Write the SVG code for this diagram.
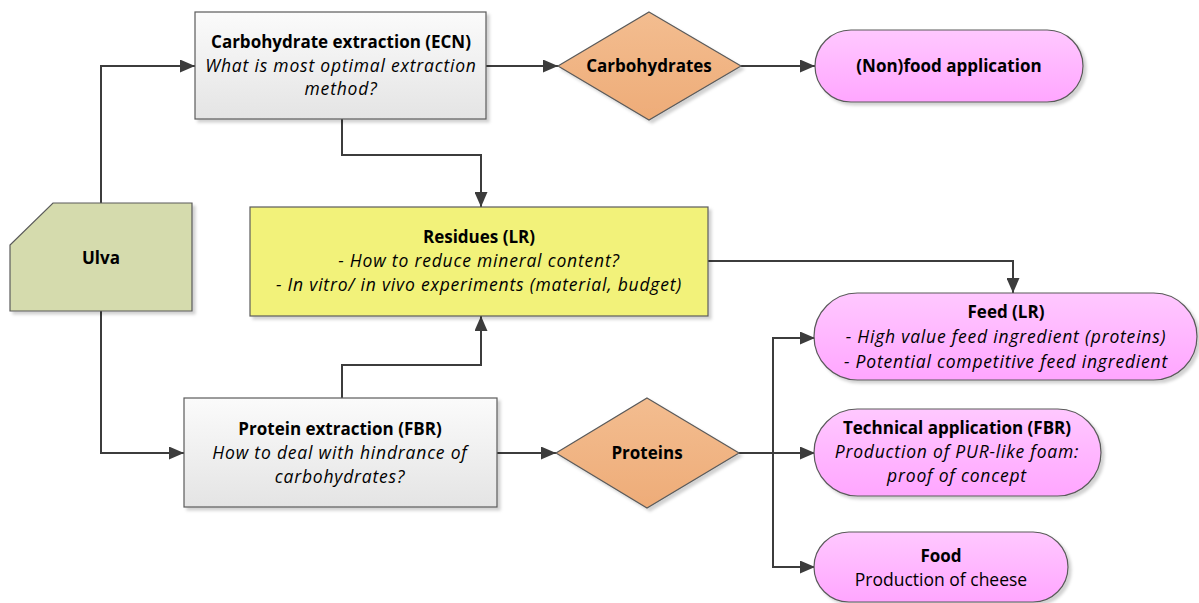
<svg xmlns="http://www.w3.org/2000/svg" width="1199" height="603" viewBox="0 0 1199 603">
<defs>
<linearGradient id="gGray" x1="0" y1="0" x2="0" y2="1"><stop offset="0" stop-color="#fbfbfb"/><stop offset="1" stop-color="#e4e4e4"/></linearGradient>
<linearGradient id="gPink" x1="0" y1="0" x2="0" y2="1"><stop offset="0" stop-color="#ffc8ff"/><stop offset="1" stop-color="#ffa6ff"/></linearGradient>
<linearGradient id="gOrange" x1="0" y1="0" x2="0" y2="1"><stop offset="0" stop-color="#f3bd90"/><stop offset="1" stop-color="#eeac78"/></linearGradient>
<filter id="sh" x="-5%" y="-5%" width="115%" height="120%"><feDropShadow dx="3" dy="3" stdDeviation="1.5" flood-color="#000" flood-opacity="0.18"/></filter>
<marker id="arr" viewBox="0 0 15 13" refX="15" refY="6.5" markerWidth="15" markerHeight="13" markerUnits="userSpaceOnUse" orient="auto"><path d="M0,0 L15,6.5 L0,13 z" fill="#3c3c3c"/></marker>
</defs>
<style>
.ln{fill:none;stroke:#3c3c3c;stroke-width:2}
.bd{stroke:#5a5a5a;stroke-width:1.2}
text{font-family:"Open Sans","Noto Sans","Liberation Sans",sans-serif;font-size:17.5px;fill:#000;text-anchor:middle}
.b{font-weight:bold;font-size:17px}
.i{font-style:italic;letter-spacing:0.8px}
</style>
<rect width="1199" height="603" fill="#fff"/>
<g id="connectors">
<path class="ln" d="M101,203 V66 H195" marker-end="url(#arr)"/>
<path class="ln" d="M101,311 V453 H184" marker-end="url(#arr)"/>
<path class="ln" d="M486,66 H558" marker-end="url(#arr)"/>
<path class="ln" d="M741,66 H815" marker-end="url(#arr)"/>
<path class="ln" d="M342,119 V155 H481 V207" marker-end="url(#arr)"/>
<path class="ln" d="M342,398 V365 H481 V316" marker-end="url(#arr)"/>
<path class="ln" d="M708,261 H1013 V293" marker-end="url(#arr)"/>
<path class="ln" d="M497,453 H556" marker-end="url(#arr)"/>
<path class="ln" d="M739,453 H815" marker-end="url(#arr)"/>
<path class="ln" d="M773,453 V338 H815" marker-end="url(#arr)"/>
<path class="ln" d="M773,453 V567 H815" marker-end="url(#arr)"/>
</g>
<g id="ulva">
<path class="bd" d="M53,203 H192 V311 H10 V245 Z" fill="#d5dbad" filter="url(#sh)"/>
<text class="b" x="101" y="264">Ulva</text>
</g>
<g id="carb-extraction">
<rect class="bd" x="195" y="12" width="291" height="107" fill="url(#gGray)" filter="url(#sh)"/>
<text class="b" x="341" y="48">Carbohydrate extraction (ECN)</text>
<text class="i" x="341" y="72">What is most optimal extraction</text>
<text class="i" x="341" y="95">method?</text>
</g>
<g id="carbohydrates">
<path class="bd" d="M649,12 L741,66 L649,120 L558,66 Z" fill="url(#gOrange)" filter="url(#sh)"/>
<text class="b" x="649" y="72">Carbohydrates</text>
</g>
<g id="nonfood">
<rect class="bd" x="815" y="30" width="268" height="72" rx="36" fill="url(#gPink)" filter="url(#sh)"/>
<text class="b" x="949" y="72">(Non)food application</text>
</g>
<g id="residues">
<rect class="bd" x="250" y="207" width="458" height="109" fill="#f2f27a" filter="url(#sh)"/>
<text class="b" x="479" y="243">Residues (LR)</text>
<text class="i" x="479" y="267">- How to reduce mineral content?</text>
<text class="i" x="479" y="291">- In vitro/ in vivo experiments (material, budget)</text>
</g>
<g id="protein-extraction">
<rect class="bd" x="184" y="398" width="313" height="109" fill="url(#gGray)" filter="url(#sh)"/>
<text class="b" x="340" y="435">Protein extraction (FBR)</text>
<text class="i" x="340" y="459">How to deal with hindrance of</text>
<text class="i" x="340" y="483">carbohydrates?</text>
</g>
<g id="proteins">
<path class="bd" d="M647,398 L739,453 L647,508 L556,453 Z" fill="url(#gOrange)" filter="url(#sh)"/>
<text class="b" x="647" y="459">Proteins</text>
</g>
<g id="feed">
<rect class="bd" x="814" y="293" width="383" height="87" rx="43.5" fill="url(#gPink)" filter="url(#sh)"/>
<text class="b" x="1006" y="318">Feed (LR)</text>
<text class="i" x="1006" y="343">- High value feed ingredient (proteins)</text>
<text class="i" x="1006" y="368">- Potential competitive feed ingredient</text>
</g>
<g id="technical">
<rect class="bd" x="814" y="409" width="287" height="87" rx="43.5" fill="url(#gPink)" filter="url(#sh)"/>
<text class="b" x="957" y="434">Technical application (FBR)</text>
<text class="i" x="957" y="458">Production of PUR-like foam:</text>
<text class="i" x="957" y="482">proof of concept</text>
</g>
<g id="food">
<rect class="bd" x="814" y="532" width="254" height="70" rx="35" fill="url(#gPink)" filter="url(#sh)"/>
<text class="b" x="941" y="562">Food</text>
<text x="941" y="586">Production of cheese</text>
</g>
</svg>
